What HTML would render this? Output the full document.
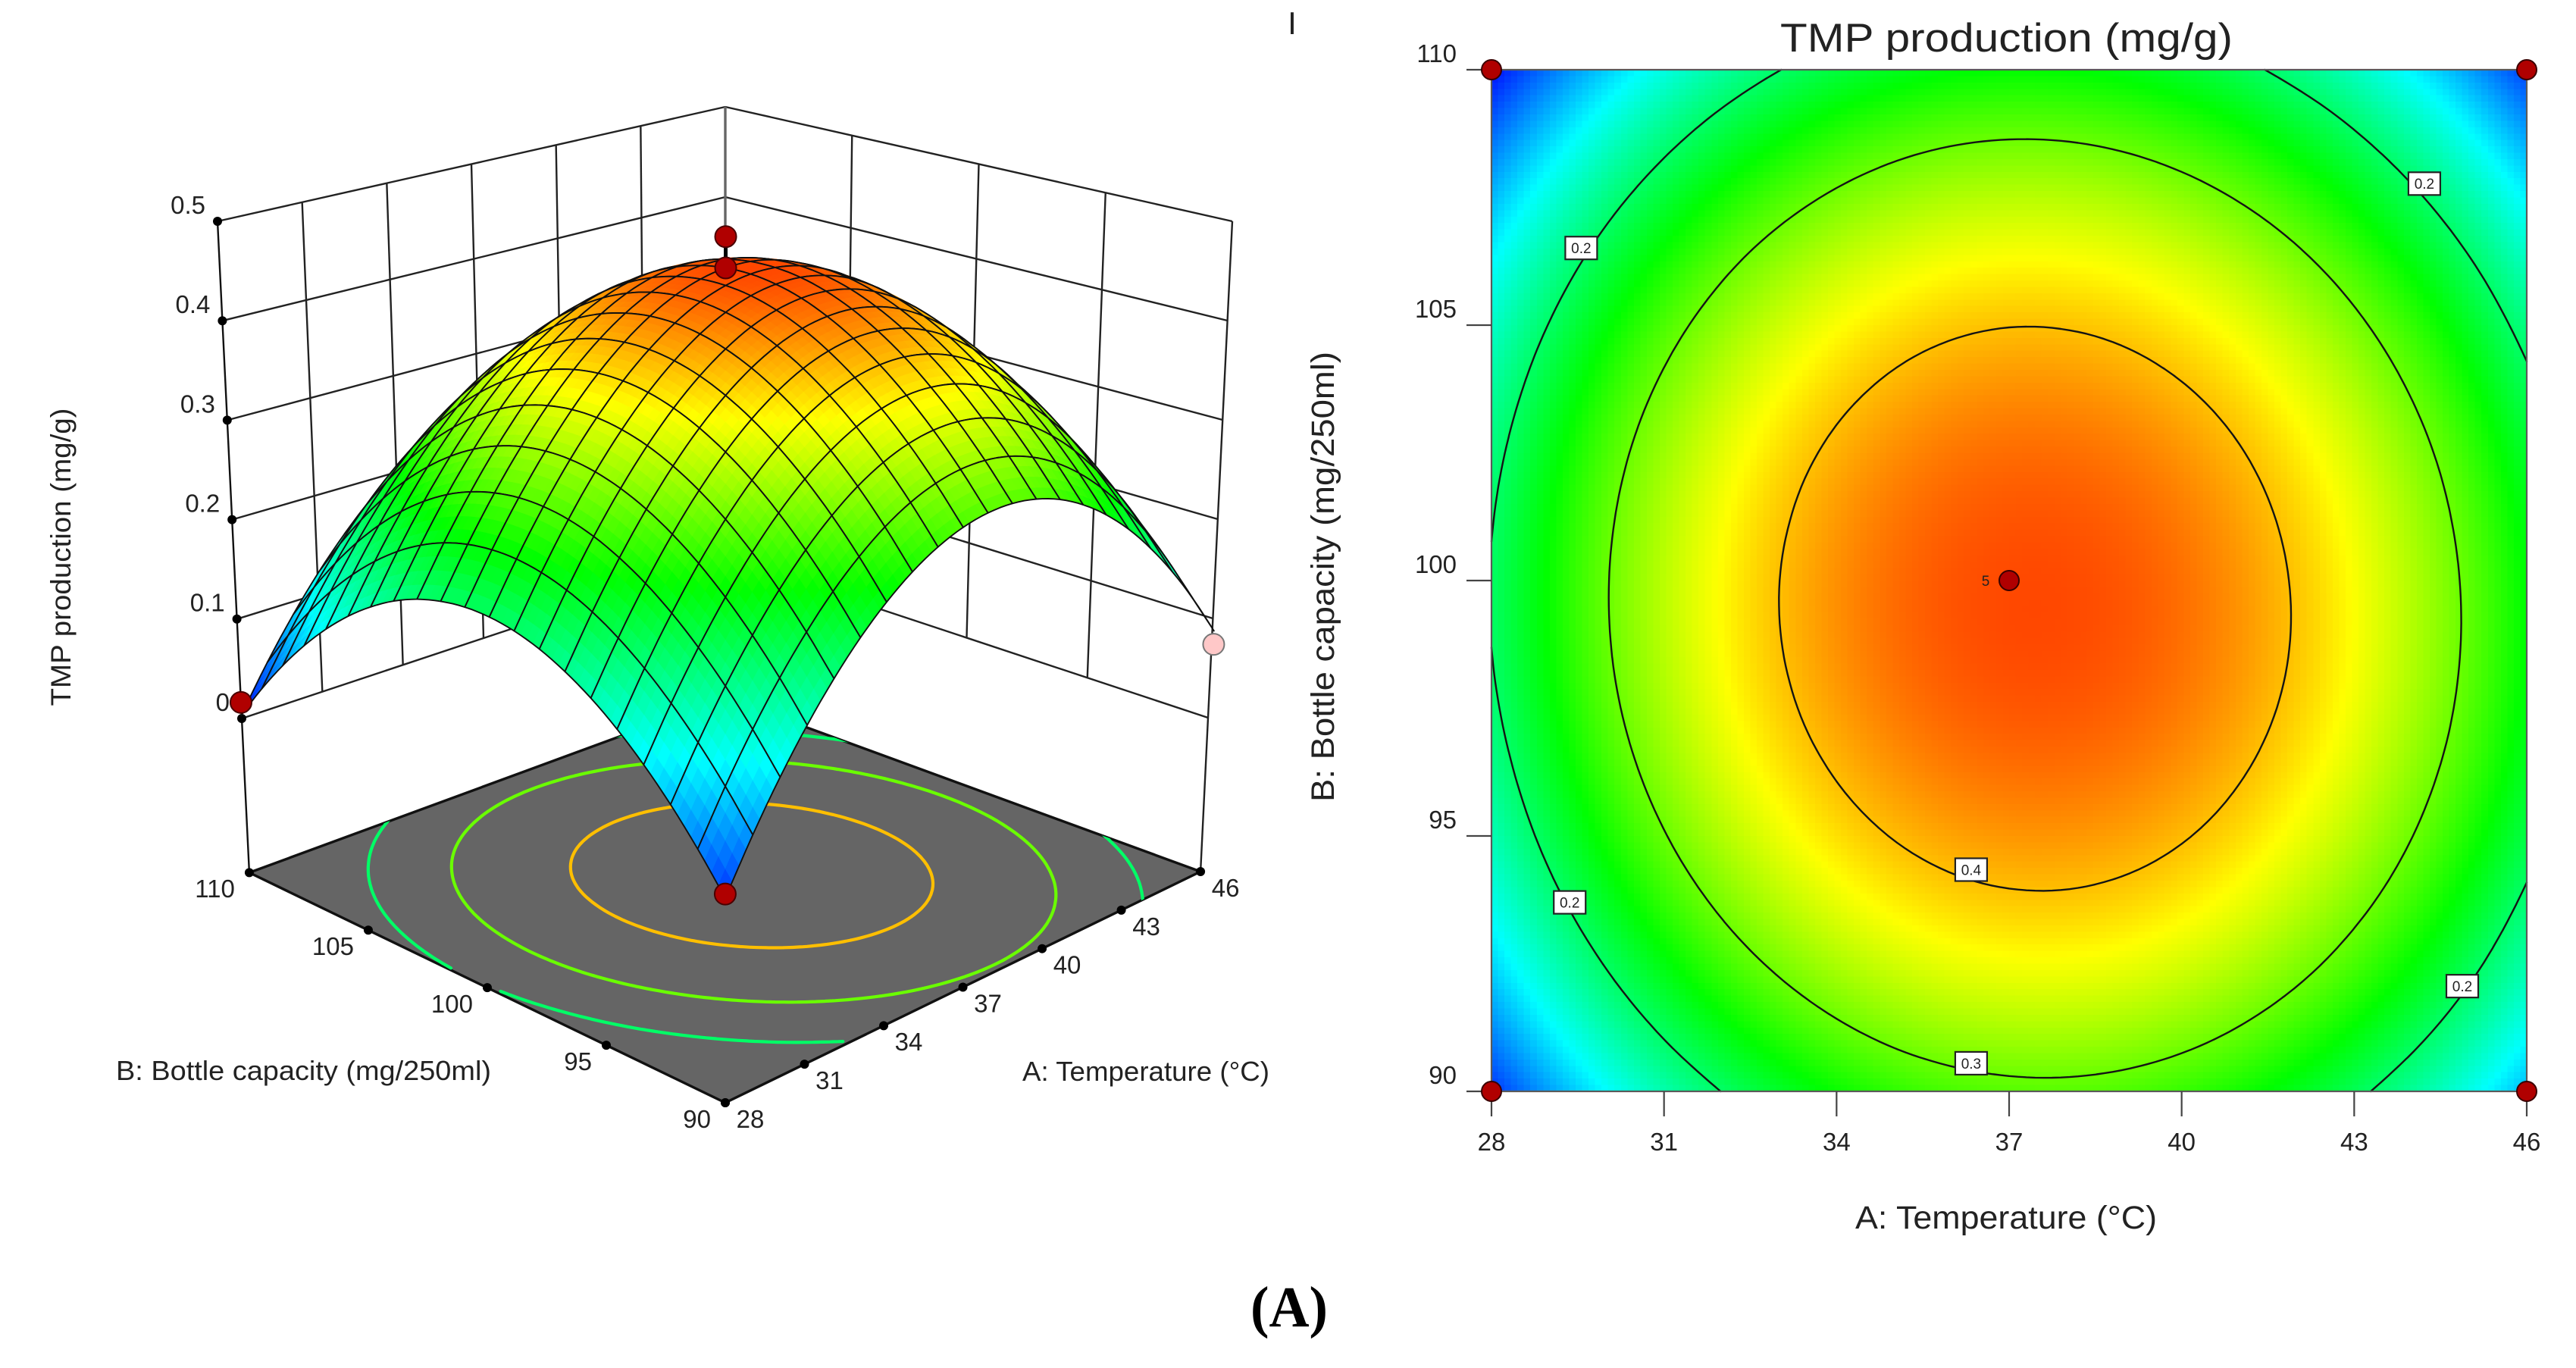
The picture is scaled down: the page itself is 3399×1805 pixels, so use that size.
<!DOCTYPE html>
<html lang="en">
<head>
<meta charset="utf-8">
<title>TMP production response surface and contour</title>
<style>
html,body{margin:0;padding:0;background:#fff;width:3399px;height:1805px;overflow:hidden}
svg{display:block}
text{font-family:"Liberation Sans",sans-serif;fill:#222}
</style>
</head>
<body>
<svg id="fig" xmlns="http://www.w3.org/2000/svg" width="3399" height="1805" viewBox="0 0 3399 1805">
  <rect x="0" y="0" width="3399" height="1805" fill="#fff"/>
  <g id="chart3d"></g>
  <g id="chart2d"></g>
  <text transform="translate(93,735) rotate(-90)" text-anchor="middle" font-size="37" textLength="393" lengthAdjust="spacingAndGlyphs">TMP production (mg/g)</text>
  <text x="153" y="1425" font-size="36" textLength="495" lengthAdjust="spacingAndGlyphs">B: Bottle capacity (mg/250ml)</text>
  <text x="1349" y="1426" font-size="36" textLength="326" lengthAdjust="spacingAndGlyphs">A: Temperature (°C)</text>
  <text x="2349" y="68" font-size="53" textLength="597" lengthAdjust="spacingAndGlyphs">TMP production (mg/g)</text>
  <text transform="translate(1760,761) rotate(-90)" text-anchor="middle" font-size="43" textLength="594" lengthAdjust="spacingAndGlyphs">B: Bottle capacity (mg/250ml)</text>
  <text x="2448" y="1621" font-size="43" textLength="398" lengthAdjust="spacingAndGlyphs">A: Temperature (°C)</text>
  <text x="1705" y="45" text-anchor="middle" font-size="42">I</text>
  <text x="1650" y="1750" font-size="76" font-weight="bold" textLength="102" lengthAdjust="spacingAndGlyphs" style="font-family:'Liberation Serif',serif;fill:#000">(A)</text>
</svg>
<script>
const tempTicks = [28, 31, 34, 37, 40, 43, 46];
const bottleTicks = [90, 95, 100, 105, 110];
const zTicks = [0, 0.1, 0.2, 0.3, 0.4, 0.5];
const zTickLabels = ['0', '0.1', '0.2', '0.3', '0.4', '0.5'];
const contourLevels = [0.2, 0.3, 0.4];
const gridTemps = [28, 28.9, 29.8, 30.7, 31.6, 32.5, 33.4, 34.3, 35.2, 36.1, 37, 37.9, 38.8, 39.7, 40.6, 41.5, 42.4, 43.3, 44.2, 45.1, 46];
const gridBottles = [110, 109, 108, 107, 106, 105, 104, 103, 102, 101, 100, 99, 98, 97, 96, 95, 94, 93, 92, 91, 90];
const floorZ = [-0.155];
const designTemps = [28, 28, 46, 46, 37];
const designBottles = [90, 110, 90, 110, 100];
const designValues = [0.03, 0.02, 0.078, 0.025, 0.486];
const contourTagValues = ['0.2', '0.2', '0.2', '0.2', '0.3', '0.4'];
const contourTagTemps = [29.56, 44.22, 29.36, 44.88, 36.34, 36.34];
const contourTagBottles = [106.51, 107.77, 93.7, 92.06, 90.55, 94.34];
/* response values: one row per gridBottles entry, one column per gridTemps entry */
const surfaceRows = [
[.0069,.0521,.0926,.1284,.1596,.1864,.2083,.2257,.2386,.2467,.2502,.2492,.2435,.2332,.2183,.1987,.1746,.1458,.1124,.0744,.0317],
[.0431,.0883,.1289,.1649,.1962,.2230,.2451,.2626,.2755,.2838,.2874,.2864,.2808,.2707,.2558,.2363,.2124,.1836,.1503,.1125,.0699],
[.0755,.1208,.1616,.1976,.2290,.2560,.2781,.2957,.3088,.3171,.3208,.3200,.3145,.3044,.2897,.2703,.2464,.2178,.1846,.1468,.1044],
[.1043,.1498,.1906,.2267,.2583,.2853,.3075,.3253,.3384,.3468,.3507,.3499,.3446,.3346,.3199,.3007,.2769,.2483,.2153,.1776,.1352],
[.1294,.1749,.2158,.2521,.2837,.3109,.3332,.3510,.3643,.3728,.3767,.3761,.3708,.3609,.3464,.3272,.3035,.2751,.2421,.2046,.1623],
[.1507,.1963,.2374,.2737,.3055,.3327,.3551,.3731,.3864,.3950,.3991,.3985,.3934,.3836,.3691,.3501,.3265,.2981,.2653,.2278,.1857],
[.1683,.2141,.2552,.2917,.3235,.3508,.3734,.3914,.4049,.4136,.4177,.4173,.4122,.4025,.3882,.3692,.3458,.3175,.2847,.2474,.2053],
[.1824,.2282,.2695,.3060,.3379,.3654,.3880,.4062,.4197,.4285,.4328,.4324,.4275,.4179,.4036,.3848,.3614,.3333,.3006,.2633,.2214],
[.1926,.2386,.2799,.3165,.3486,.3761,.3989,.4171,.4307,.4397,.4440,.4438,.4389,.4295,.4153,.3965,.3733,.3452,.3127,.2755,.2336],
[.1990,.2451,.2865,.3233,.3554,.3831,.4059,.4242,.4380,.4470,.4515,.4513,.4466,.4372,.4232,.4045,.3813,.3534,.3209,.2839,.2421],
[.2019,.2480,.2896,.3264,.3587,.3864,.4094,.4278,.4416,.4508,.4553,.4553,.4506,.4414,.4274,.4088,.3858,.3579,.3256,.2886,.2470],
[.2010,.2473,.2889,.3259,.3582,.3860,.4091,.4276,.4416,.4508,.4555,.4555,.4510,.4418,.4280,.4095,.3866,.3588,.3265,.2897,.2481],
[.1965,.2428,.2846,.3216,.3540,.3820,.4051,.4238,.4378,.4472,.4519,.4521,.4476,.4386,.4248,.4065,.3836,.3560,.3238,.2870,.2456],
[.1882,.2346,.2765,.3136,.3462,.3742,.3975,.4162,.4304,.4398,.4447,.4449,.4406,.4316,.4180,.3997,.3770,.3494,.3174,.2807,.2394],
[.1761,.2227,.2646,.3019,.3345,.3627,.3860,.4049,.4191,.4287,.4336,.4340,.4297,.4209,.4073,.3892,.3665,.3391,.3071,.2706,.2293],
[.1605,.2071,.2492,.2865,.3193,.3475,.3710,.3899,.4043,.4139,.4190,.4194,.4153,.4065,.3931,.3750,.3525,.3251,.2933,.2568,.2157],
[.1411,.1879,.2300,.2675,.3003,.3287,.3522,.3713,.3857,.3955,.4006,.4012,.3971,.3885,.3751,.3572,.3347,.3075,.2757,.2394,.1983],
[.1179,.1648,.2070,.2446,.2776,.3060,.3297,.3488,.3634,.3732,.3785,.3791,.3752,.3666,.3534,.3355,.3132,.2860,.2544,.2182,.1772],
[.0912,.1381,.1805,.2181,.2512,.2797,.3035,.3228,.3374,.3474,.3527,.3535,.3496,.3412,.3280,.3103,.2881,.2610,.2295,.1933,.1525],
[.0606,.1077,.1501,.1879,.2210,.2497,.2735,.2929,.3077,.3177,.3232,.3240,.3203,.3119,.2989,.2813,.2591,.2322,.2007,.1647,.1239],
[.0264,.0735,.1161,.1539,.1872,.2159,.2399,.2594,.2742,.2844,.2899,.2909,.2872,.2790,.2660,.2485,.2265,.1996,.1683,.1323,.0917]
];

const NS = 'http://www.w3.org/2000/svg';
function make(parent, tag, attrs) {
  const el = document.createElementNS(NS, tag);
  for (const k in attrs) el.setAttribute(k, attrs[k]);
  parent.appendChild(el);
  return el;
}

/* --- smooth (Catmull-Rom) value lookup on the table, fractional grid indices --- */
const nCols = gridTemps.length - 1, nRows = gridBottles.length - 1;
function tableValue(i, j) {
  let ci = i, cj = j, extra = 0;
  if (i < 0) { ci = 0; extra += surfaceRows[Math.max(0, Math.min(nRows, j))][0] - surfaceRows[Math.max(0, Math.min(nRows, j))][1]; }
  if (i > nCols) { ci = nCols; extra += surfaceRows[Math.max(0, Math.min(nRows, j))][nCols] - surfaceRows[Math.max(0, Math.min(nRows, j))][nCols - 1]; }
  if (j < 0) { cj = 0; extra += surfaceRows[0][ci] - surfaceRows[1][ci]; }
  if (j > nRows) { cj = nRows; extra += surfaceRows[nRows][ci] - surfaceRows[nRows - 1][ci]; }
  return surfaceRows[cj][ci] + extra;
}
function cr(a, b, c, d, t) {
  return b + 0.5 * t * (c - a + t * (2 * a - 5 * b + 4 * c - d + t * (3 * (b - c) + d - a)));
}
function valueAt(fi, fj) {
  const i = Math.min(nCols - 1, Math.max(0, Math.floor(fi)));
  const j = Math.min(nRows - 1, Math.max(0, Math.floor(fj)));
  const s = fi - i, t = fj - j, col = [];
  for (let m = -1; m <= 2; m++) {
    col.push(cr(tableValue(i - 1, j + m), tableValue(i, j + m), tableValue(i + 1, j + m), tableValue(i + 2, j + m), s));
  }
  return cr(col[0], col[1], col[2], col[3], t);
}
function tempAt(fi) {
  const i = Math.min(nCols - 1, Math.floor(fi));
  return gridTemps[i] + (gridTemps[i + 1] - gridTemps[i]) * (fi - i);
}
function bottleAt(fj) {
  const j = Math.min(nRows - 1, Math.floor(fj));
  return gridBottles[j] + (gridBottles[j + 1] - gridBottles[j]) * (fj - j);
}
function tempIndex(a) { return (a - gridTemps[0]) / (gridTemps[nCols] - gridTemps[0]) * nCols; }
function bottleIndex(b) { return (b - gridBottles[0]) / (gridBottles[nRows] - gridBottles[0]) * nRows; }

/* --- colour ramp --- */
const rampZ = [0, 0.125, 0.25, 0.37, 0.49];
const rampRGB = [[0, 0, 255], [0, 255, 255], [0, 255, 0], [255, 255, 0], [255, 0, 0]];
function colorOf(z) {
  let k = 0;
  while (k < rampZ.length - 2 && z > rampZ[k + 1]) k++;
  const f = Math.max(0, Math.min(1, (z - rampZ[k]) / (rampZ[k + 1] - rampZ[k])));
  const c = rampRGB[k].map((v, n) => Math.round(v + (rampRGB[k + 1][n] - v) * f));
  return 'rgb(' + c.join(',') + ')';
}

/* --- contour segments by marching squares over a cached lattice --- */
const SUB = 6;
const lattice = [];
for (let m = 0; m <= nRows * SUB; m++) {
  const row = [];
  for (let n = 0; n <= nCols * SUB; n++) row.push(valueAt(n / SUB, m / SUB));
  lattice.push(row);
}
function contourSegments(level) {
  const segs = [];
  const N = nCols * SUB, M = nRows * SUB;
  function cross(x0, y0, v0, x1, y1, v1) {
    const f = (level - v0) / (v1 - v0);
    return [tempAt(x0 + (x1 - x0) * f), bottleAt(y0 + (y1 - y0) * f)];
  }
  for (let m = 0; m < M; m++) for (let n = 0; n < N; n++) {
    const x0 = n / SUB, x1 = (n + 1) / SUB, y0 = m / SUB, y1 = (m + 1) / SUB;
    const a = lattice[m][n], b = lattice[m][n + 1], c = lattice[m + 1][n + 1], d = lattice[m + 1][n];
    const pts = [];
    if ((a < level) !== (b < level)) pts.push(cross(x0, y0, a, x1, y0, b));
    if ((b < level) !== (c < level)) pts.push(cross(x1, y0, b, x1, y1, c));
    if ((c < level) !== (d < level)) pts.push(cross(x1, y1, c, x0, y1, d));
    if ((d < level) !== (a < level)) pts.push(cross(x0, y1, d, x0, y0, a));
    if (pts.length >= 2) segs.push([pts[0], pts[1]]);
    if (pts.length === 4) segs.push([pts[2], pts[3]]);
  }
  return segs;
}

/* --- box axis function: bilinear over four corner posts, each post linear in z --- */
const boxFrontPost = [957, 1215.5, 957, 443];
const boxLeftPost = [319, 948, 287, 292];
const boxRightPost = [1594, 947, 1626, 292];
const boxBackPost = [957, 736, 957, 141];
function project(a, b, z) {
  const u = (a - 28) / 18, v = (b - 90) / 20, k = z / 0.5;
  const pick = (post, n) => post[n] + (post[n + 2] - post[n]) * k;
  return [0, 1].map(n =>
    pick(boxFrontPost, n) * (1 - u) * (1 - v) + pick(boxRightPost, n) * u * (1 - v) +
    pick(boxLeftPost, n) * (1 - u) * v + pick(boxBackPost, n) * u * v);
}

/* --- surface axis function: perspective camera calibrated on the picture --- */
const cameraAnchors = [
  [28, 110, -.155, 330, 1154], [28, 90, -.155, 957, 1455], [46, 90, -.155, 1590, 1152], [46, 110, -.155, 957, 917],
  [33.78, 96.43, -.155, 957, 1255], [30.06, 92.29, -.155, 957, 1382],
  [28, 90, .0264, 957, 1172], [28, 90, .0264, 957, 1172], [28, 90, .0264, 957, 1172],
  [28, 95, .1605, 778, 925], [28, 100, .2019, 611, 803], [28, 100, .2019, 611, 803],
  [28, 103, .1824, 516, 795], [28, 103, .1824, 516, 795],
  [32.5, 90, .2159, 1136, 847], [37, 90, .2899, 1305, 680], [37, 90, .2899, 1305, 680],
  [39.7, 90, .2790, 1403, 664], [39.7, 90, .2790, 1403, 664],
  [28, 110, .02, 318, 921], [28, 110, .02, 318, 921], [46, 90, .0917, 1600, 817], [37, 100, .4553, 957, 353]
];
function solveCamera() {
  const rows = [], rhs = [];
  cameraAnchors.forEach(p => {
    const u = (p[0] - 28) / 18, v = (p[1] - 90) / 20, w = p[2], x = p[3] / 1000, y = p[4] / 1000;
    rows.push([u, v, w, 1, 0, 0, 0, 0, -x * u, -x * v, -x * w]); rhs.push(x);
    rows.push([0, 0, 0, 0, u, v, w, 1, -y * u, -y * v, -y * w]); rhs.push(y);
  });
  const n = 11, A = [];
  for (let r = 0; r < n; r++) {
    A.push(new Array(n + 1).fill(0));
    for (let c = 0; c < n; c++) for (let k = 0; k < rows.length; k++) A[r][c] += rows[k][r] * rows[k][c];
    for (let k = 0; k < rows.length; k++) A[r][n] += rows[k][r] * rhs[k];
  }
  for (let c = 0; c < n; c++) {
    let best = c;
    for (let r = c + 1; r < n; r++) if (Math.abs(A[r][c]) > Math.abs(A[best][c])) best = r;
    const tmp = A[c]; A[c] = A[best]; A[best] = tmp;
    for (let r = 0; r < n; r++) if (r !== c) {
      const f = A[r][c] / A[c][c];
      for (let k = c; k <= n; k++) A[r][k] -= f * A[c][k];
    }
  }
  return A.map((row, r) => row[n] / row[r]);
}
const cam = solveCamera();
function surfaceProject(a, b, z) {
  const u = (a - 28) / 18, v = (b - 90) / 20;
  const w = cam[8] * u + cam[9] * v + cam[10] * z + 1;
  return [1000 * (cam[0] * u + cam[1] * v + cam[2] * z + cam[3]) / w,
          1000 * (cam[4] * u + cam[5] * v + cam[6] * z + cam[7]) / w];
}
function pairStr(p) { return p[0].toFixed(1) + ',' + p[1].toFixed(1); }

/* --- 3D chart --- */
const g3 = document.getElementById('chart3d');
const wallColor = '#222';
function wallLine(p, q, width, color, name) {
  const el = make(g3, 'line', {x1: p[0], y1: p[1], x2: q[0], y2: q[1], stroke: color, 'stroke-width': width});
  
  
}
const tMin = tempTicks[0], tMax = tempTicks[tempTicks.length - 1];
const bMin = bottleTicks[0], bMax = bottleTicks[bottleTicks.length - 1];
const zLow = zTicks[0], zHigh = zTicks[zTicks.length - 1], zf = floorZ[0];
zTicks.forEach(z => {
  wallLine(project(tMin, bMax, z), project(tMax, bMax, z), 2.4, wallColor, 'wall-gridline-z');
  wallLine(project(tMax, bMax, z), project(tMax, bMin, z), 2.4, wallColor, 'wall-gridline-z');
});
tempTicks.forEach(a => {
  if (a !== tMin && a !== tMax) wallLine(project(a, bMax, zLow), project(a, bMax, zHigh), 2.4, wallColor, 'wall-gridline-temperature');
});
bottleTicks.forEach(b => {
  if (b !== bMin && b !== bMax) wallLine(project(tMax, b, zLow), project(tMax, b, zHigh), 2.4, wallColor, 'wall-gridline-bottle');
});
wallLine(project(tMin, bMax, zHigh), project(tMin, bMax, zf), 2.4, '#111', 'left-corner-post');
wallLine(project(tMax, bMin, zHigh), project(tMax, bMin, zf), 2.4, '#222', 'right-corner-post');
wallLine(project(tMax, bMax, zHigh), project(tMax, bMax, zf), 3.4, '#666', 'back-corner-post');

const floorPts = [project(tMin, bMax, zf), project(tMin, bMin, zf), project(tMax, bMin, zf), project(tMax, bMax, zf)];
const floorEl = make(g3, 'polygon', {points: floorPts.map(pairStr).join(' '), fill: '#656565', stroke: '#111', 'stroke-width': 3.4, 'stroke-linejoin': 'round'});



const defs = make(g3, 'defs', {});


const clip = make(defs, 'clipPath', {id: 'floorClip'});


const clipShape = make(clip, 'polygon', {points: floorPts.map(pairStr).join(' ')});



contourLevels.forEach(level => {
  let d = '';
  contourSegments(level).forEach(s => {
    d += 'M' + pairStr(surfaceProject(s[0][0], s[0][1], zf)) + 'L' + pairStr(surfaceProject(s[1][0], s[1][1], zf));
  });
  const el = make(g3, 'path', {d: d, fill: 'none', stroke: colorOf(level), 'stroke-width': 4.2, 'stroke-linecap': 'round', 'clip-path': 'url(#floorClip)'});
  
  
});

function dot(p, name) {
  const el = make(g3, 'circle', {cx: p[0], cy: p[1], r: 6, fill: '#000'});
  
  
}
function tickText(parent, txt, x, y, anchor, size, name) {
  const el = make(parent, 'text', {x: x, y: y + size * 0.36, 'text-anchor': anchor, 'font-size': size});
  el.textContent = txt;
  
  
}
zTicks.forEach((z, k) => {
  const p = project(tMin, bMax, z);
  dot(p, 'z-tick-dot');
  tickText(g3, zTickLabels[k], p[0] - 16, p[1] - 22, 'end', 33, 'z-tick-label');
});
bottleTicks.forEach(b => {
  const p = project(tMin, b, zf);
  dot(p, 'bottle-tick-dot');
  tickText(g3, String(b), p[0] - 19, p[1] + 21, 'end', 33, 'bottle-tick-label-3d');
});
tempTicks.forEach(a => {
  const p = project(a, bMin, zf);
  dot(p, 'temperature-tick-dot');
  tickText(g3, String(a), p[0] + 33, p[1] + 21, 'middle', 33, 'temperature-tick-label-3d');
});

/* markers hidden behind the surface are placed before it */
function marker3d(parent, a, b, z, fill, name) {
  const p = surfaceProject(a, b, z);
  const el = make(parent, 'circle', {cx: p[0], cy: p[1], r: 14, fill: fill, stroke: fill === '#b00000' ? '#4a0000' : '#777', 'stroke-width': 2});
  
  
}
const behindGroup = make(g3, 'g', {});



/* surface, painted from the back corner forwards */
const surfaceGroup = make(g3, 'g', {});


const FINE = 4;
function surfacePoint(fi, fj) { return surfaceProject(tempAt(fi), bottleAt(fj), valueAt(fi, fj)); }
for (let i = nCols - 1; i >= 0; i--) {
  for (let j = 0; j < nRows; j++) {
    for (let si = FINE - 1; si >= 0; si--) for (let sj = 0; sj < FINE; sj++) {
      const x0 = i + si / FINE, x1 = i + (si + 1) / FINE, y0 = j + sj / FINE, y1 = j + (sj + 1) / FINE;
      const col = colorOf(valueAt((x0 + x1) / 2, (y0 + y1) / 2));
      const poly = make(surfaceGroup, 'polygon', {
        points: [surfacePoint(x0, y0), surfacePoint(x1, y0), surfacePoint(x1, y1), surfacePoint(x0, y1)].map(pairStr).join(' '),
        fill: col, stroke: col, 'stroke-width': 0.9
      });
      
      
    }
    let outline = [];
    for (let s = 0; s <= FINE; s++) outline.push(surfacePoint(i + s / FINE, j));
    for (let s = 1; s <= FINE; s++) outline.push(surfacePoint(i + 1, j + s / FINE));
    for (let s = 1; s <= FINE; s++) outline.push(surfacePoint(i + 1 - s / FINE, j + 1));
    for (let s = 1; s <= FINE; s++) outline.push(surfacePoint(i, j + 1 - s / FINE));
    const cell = make(surfaceGroup, 'polygon', {points: outline.map(pairStr).join(' '), fill: 'none', stroke: '#101010', 'stroke-width': 1.9, 'stroke-linejoin': 'round'});
    
    
  }
}

/* design points */
designTemps.forEach((a, k) => {
  const b = designBottles[k], z = designValues[k];
  const surf = valueAt(tempIndex(a), bottleIndex(b));
  const fill = z >= surf ? '#b00000' : '#ffc8c8';
  if (a === tMax && b === bMax) {
    marker3d(behindGroup, a, b, z, fill, 'design-point-3d');
    return;
  }
  if (z - surf > 0.02) {
    const p = surfaceProject(a, b, z), q = surfaceProject(a, b, surf);
    const stem = make(g3, 'line', {x1: p[0], y1: p[1], x2: q[0], y2: q[1], stroke: '#000', 'stroke-width': 5});
    
    
    marker3d(g3, a, b, surf, fill, 'design-point-surface-projection');
  }
  marker3d(g3, a, b, z, fill, 'design-point-3d');
});

/* --- 2D contour chart --- */
const g2 = document.getElementById('chart2d');
const plotL = 1968, plotR = 3334, plotT = 92, plotB = 1440;
function xScale(a) { return plotL + (a - tMin) / (tMax - tMin) * (plotR - plotL); }
function yScale(b) { return plotB - (b - bMin) / (bMax - bMin) * (plotB - plotT); }

const heat = make(g2, 'g', {'shape-rendering': 'crispEdges'});


const HEAT = 8;
for (let n = 0; n < nCols * HEAT; n++) for (let m = 0; m < nRows * HEAT; m++) {
  const x0 = xScale(tempAt(n / HEAT)), x1 = xScale(tempAt((n + 1) / HEAT));
  const y0 = yScale(bottleAt(m / HEAT)), y1 = yScale(bottleAt((m + 1) / HEAT));
  const r = make(heat, 'rect', {x: x0.toFixed(1), y: y0.toFixed(1), width: (x1 - x0 + 0.6).toFixed(1), height: (y1 - y0 + 0.6).toFixed(1),
    fill: colorOf(valueAt((n + 0.5) / HEAT, (m + 0.5) / HEAT))});
  
  
}

contourLevels.forEach(level => {
  let d = '';
  contourSegments(level).forEach(s => {
    d += 'M' + xScale(s[0][0]).toFixed(1) + ',' + yScale(s[0][1]).toFixed(1) + 'L' + xScale(s[1][0]).toFixed(1) + ',' + yScale(s[1][1]).toFixed(1);
  });
  const el = make(g2, 'path', {d: d, fill: 'none', stroke: '#141414', 'stroke-width': 2.4, 'stroke-linecap': 'round'});
  
  
});

const frame = make(g2, 'rect', {x: plotL, y: plotT, width: plotR - plotL, height: plotB - plotT, fill: 'none', stroke: '#5a5a5a', 'stroke-width': 2.2});



tempTicks.forEach(a => {
  const x = xScale(a);
  const t = make(g2, 'line', {x1: x, y1: plotB, x2: x, y2: plotB + 33, stroke: '#444', 'stroke-width': 2.2});
  
  
  tickText(g2, String(a), x, plotB + 66, 'middle', 33, 'x-tick-label');
});
bottleTicks.forEach(b => {
  const y = yScale(b);
  const t = make(g2, 'line', {x1: plotL - 33, y1: y, x2: plotL, y2: y, stroke: '#444', 'stroke-width': 2.2});
  
  
  tickText(g2, String(b), plotL - 46, y - 22, 'end', 33, 'y-tick-label');
});

contourTagValues.forEach((txt, k) => {
  const x = xScale(contourTagTemps[k]), y = yScale(contourTagBottles[k]);
  const box = make(g2, 'rect', {x: x - 21, y: y - 15, width: 42, height: 30, fill: '#fff', stroke: '#222', 'stroke-width': 2.2});
  
  
  tickText(g2, txt, x, y, 'middle', 19, 'contour-label');
});

designTemps.forEach((a, k) => {
  const c = make(g2, 'circle', {cx: xScale(a), cy: yScale(designBottles[k]), r: 13, fill: '#b00000', stroke: '#3a0000', 'stroke-width': 2});
  
  
});
tickText(g2, '5', xScale(37) - 31, yScale(100), 'middle', 19, 'replicate-count-label');
</script>
</body>
</html>
